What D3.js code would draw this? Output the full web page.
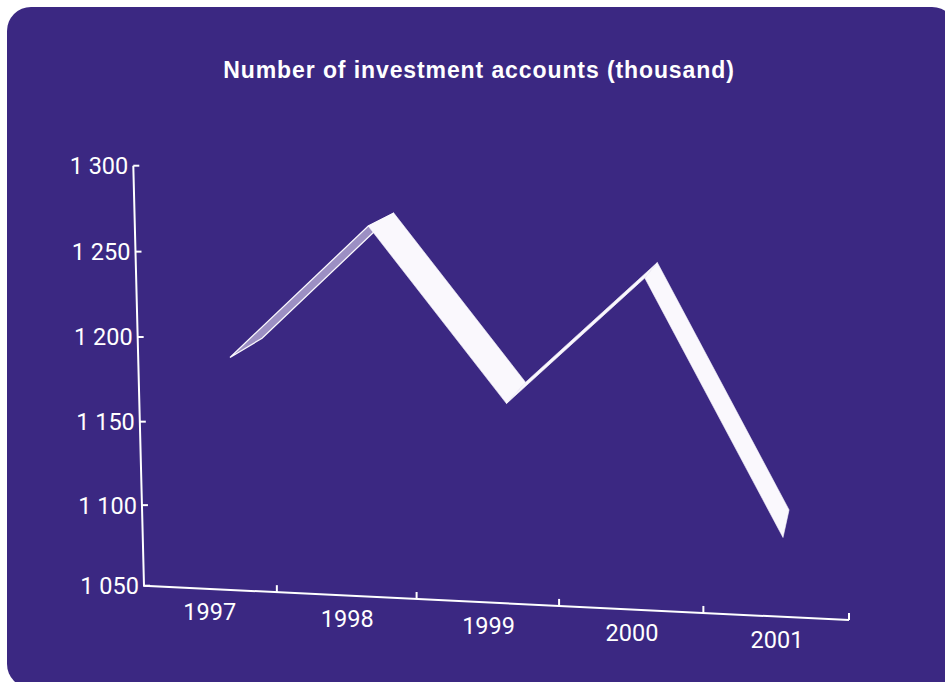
<!DOCTYPE html>
<html>
<head>
<meta charset="utf-8">
<script src="https://cdn.jsdelivr.net/npm/d3@7"></script>
<style>
  html, body { margin: 0; padding: 0; background: #ffffff; }
  svg { display: block; }
</style>
</head>
<body>
<svg id="chart" width="945" height="682"></svg>
<script>
// Number of investment accounts, thousands, by year
const years = ["1997", "1998", "1999", "2000", "2001"];
const accounts = [1184, 1267, 1164, 1244, 1090];
const yTickValues = [1050, 1100, 1150, 1200, 1250, 1300];
const title = "Number of investment accounts (thousand)";

const W = 945, H = 682;
const svg = d3.select("#chart");

const COLORS = {
  panel: "#3b2882",
  ink: "#ffffff",
  top: "#faf8fd",
  under: "#9c8fc3"
};

const tickFont = "Roboto, 'Noto Sans', sans-serif";
const tickSize = 23.5;

// Rounded panel behind the chart
svg.append("rect")
  .attr("x", 7).attr("y", 7)
  .attr("width", 949).attr("height", 681)
  .attr("rx", 24).attr("ry", 24)
  .attr("fill", COLORS.panel);

// Title
svg.append("text")
  .attr("x", 479).attr("y", 78)
  .attr("text-anchor", "middle")
  .attr("fill", COLORS.ink)
  .style("font-family", "'Liberation Sans', Arial, sans-serif")
  .style("font-weight", "bold")
  .style("font-size", "23px")
  .style("letter-spacing", "0.9px")
  .text(title);

// --- 3D-ish frame: the axis plane is slightly skewed ---------------------
const origin = [144, 585.7];      // corner where the two axes meet
const floorSlope = 0.0487;        // x-axis drops to the right
const tilt = 10.7 / 420;          // y-axis leans left going up
const vanish = [912, -50];        // point the depth direction converges to
const depthK = 0.047;             // ribbon depth, as a fraction toward vanish
const ribbonPlane = 0.973;        // ribbon sits slightly behind the axis plane

// category position along the x-axis (slight perspective growth)
const xAxisScale = d3.scalePow().exponent(1.037)
  .domain([0, years.length]).range([0, 705]);
// value -> height above the floor (slight perspective growth upward)
const valueNorm = d3.scaleLinear().domain([1050, 1300]).range([0, 1]);
const heightScale = d3.scalePow().exponent(1.026).domain([0, 1]).range([0, 420]);
const h = v => heightScale(valueNorm(v));
// ribbon front edge horizontal positions
const ribbonX = d3.scaleLinear().domain([0, years.length - 1]).range([230, 783]);

function axisPoint(u, hh) {
  return [origin[0] + u - hh * tilt, origin[1] + floorSlope * u - hh];
}
function towardVanish(p, k) {
  return [p[0] + (vanish[0] - p[0]) * k, p[1] + (vanish[1] - p[1]) * k];
}
function frontPoint(i, v) {
  const uc = xAxisScale(i + 0.5);
  const floorY = origin[1] + floorSlope * uc;
  return [ribbonX(i), (floorY - h(v)) * ribbonPlane];
}

// --- Axes ------------------------------------------------------------------
const axisG = svg.append("g");
const yTop = axisPoint(0, h(1300));
const xEnd = axisPoint(xAxisScale(years.length), 0);

axisG.append("path")
  .attr("d", d3.line()([yTop, origin, xEnd]))
  .attr("fill", "none")
  .attr("stroke", COLORS.ink)
  .attr("stroke-width", 2);

// y ticks and labels
yTickValues.forEach(v => {
  const p = axisPoint(0, h(v));
  axisG.append("line")
    .attr("x1", p[0]).attr("y1", p[1])
    .attr("x2", p[0] + 6).attr("y2", p[1])
    .attr("stroke", COLORS.ink).attr("stroke-width", 2);
  axisG.append("text")
    .attr("x", p[0] - 5).attr("y", p[1] + 8.4)
    .attr("text-anchor", "end")
    .attr("fill", COLORS.ink)
    .style("font-family", tickFont)
    .style("font-size", tickSize + "px")
    .text(d3.format(",")(v).replace(",", " "));
});

// x ticks at category boundaries, labels at category centres
d3.range(1, years.length + 1).forEach(i => {
  const p = axisPoint(xAxisScale(i), 0);
  axisG.append("line")
    .attr("x1", p[0]).attr("y1", p[1])
    .attr("x2", p[0]).attr("y2", p[1] - 7)
    .attr("stroke", COLORS.ink).attr("stroke-width", 2);
});
years.forEach((yr, i) => {
  const p = axisPoint(xAxisScale(i + 0.5), 0);
  axisG.append("text")
    .attr("x", p[0] + 1).attr("y", p[1] + 31.4)
    .attr("text-anchor", "middle")
    .attr("fill", COLORS.ink)
    .style("font-family", tickFont)
    .style("font-size", tickSize + "px")
    .text(yr);
});

// --- Ribbon ------------------------------------------------------------------
const front = accounts.map((v, i) => frontPoint(i, v));
const back = front.map(p => towardVanish(p, depthK));

const ribbonG = svg.append("g");
for (let i = 0; i < accounts.length - 1; i++) {
  const f0 = front[i], f1 = front[i + 1], b1 = back[i + 1], b0 = back[i];
  // which side of the ribbon faces the viewer
  const cross = (f1[0] - f0[0]) * (b0[1] - f0[1]) - (f1[1] - f0[1]) * (b0[0] - f0[0]);
  const showsTop = cross < 0;
  ribbonG.append("path")
    .attr("d", d3.line()([f0, f1, b1, b0]) + "Z")
    .attr("fill", showsTop ? COLORS.top : COLORS.under)
    .attr("stroke", COLORS.top)
    .attr("stroke-width", showsTop ? 0.6 : 1.3)
    .attr("stroke-linejoin", "miter");
}
</script>
</body>
</html>
